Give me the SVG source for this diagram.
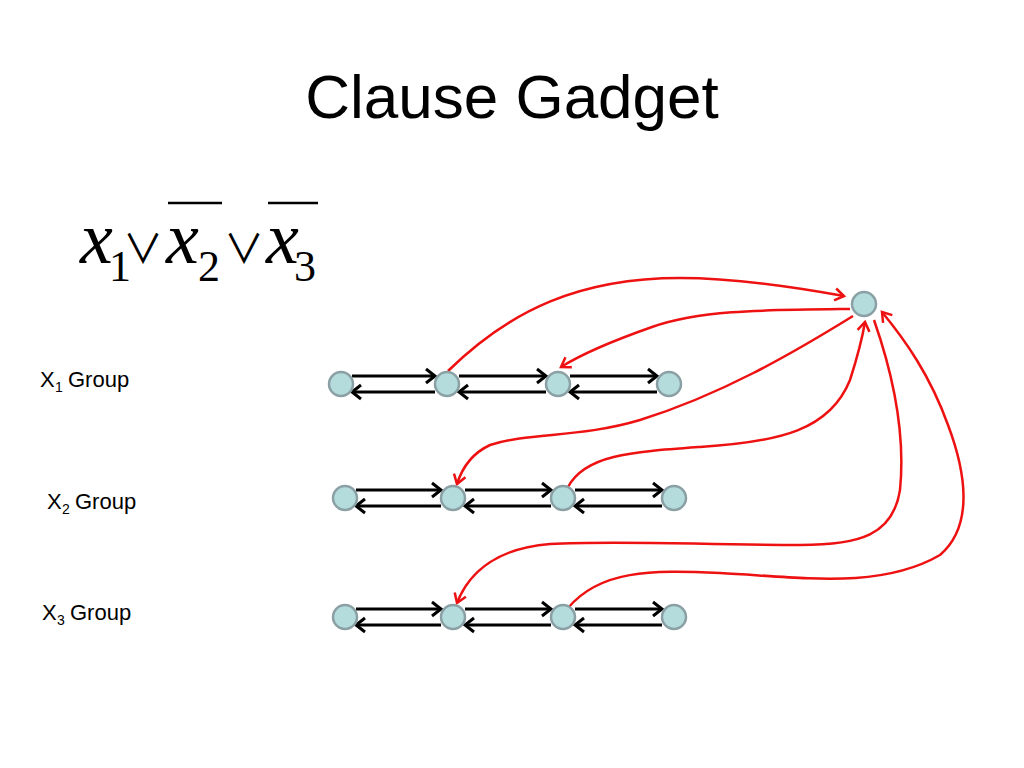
<svg xmlns="http://www.w3.org/2000/svg" width="1024" height="768" viewBox="0 0 1024 768">
<style>
.node{fill:#b5dcdd;stroke:#8aa0a4;stroke-width:2.5}
.blk{stroke:#000;stroke-width:3;fill:none;marker-end:url(#ah)}
.red{stroke:#ee1111;stroke-width:2.5;fill:none;marker-end:url(#rh)}
.lbl{font-family:"Liberation Sans",Arial,sans-serif;font-size:22px;fill:#000}
.sub{font-family:"Liberation Sans",Arial,sans-serif;font-size:14px;fill:#000}
.mx{font-family:"Liberation Serif","Times New Roman",serif;font-style:italic;font-size:74px}
.mn{font-family:"Liberation Serif","DejaVu Serif",serif;font-size:44px}
.op{font-family:"Noto Sans CJK SC","DejaVu Sans",sans-serif;font-size:40px}
</style>
<defs>
<marker id="ah" markerUnits="userSpaceOnUse" markerWidth="16" markerHeight="20" refX="12" refY="10" orient="auto">
<path d="M3,3 L12,10 L3,17" fill="none" stroke="#000" stroke-width="3"/>
</marker>
<marker id="rh" markerUnits="userSpaceOnUse" markerWidth="16" markerHeight="18" refX="12" refY="9" orient="auto">
<path d="M3,3 L12,9 L3,15" fill="none" stroke="#ee1111" stroke-width="2.5"/>
</marker>
</defs>
<rect width="1024" height="768" fill="#fff"/>
<text x="512" y="118" text-anchor="middle" style="font-family:'Liberation Sans',Arial,sans-serif;font-size:62px">Clause Gadget</text>
<g id="formula">
<text y="263" fill="#000"><tspan class="mx" x="80" y="263">x</tspan><tspan class="mn" x="109" y="281">1</tspan><tspan class="op" x="123" y="263">∨</tspan><tspan class="mx" x="166" y="263">x</tspan><tspan class="mn" x="198" y="281">2</tspan><tspan class="op" x="224" y="263">∨</tspan><tspan class="mx" x="266" y="263">x</tspan><tspan class="mn" x="294" y="281">3</tspan></text>
<line x1="168" y1="203" x2="222" y2="203" stroke="#000" stroke-width="2.5"/>
<line x1="268" y1="203" x2="318" y2="203" stroke="#000" stroke-width="2.5"/>
</g>
<g id="labels">
<text class="lbl" x="40" y="387">X<tspan class="sub" x="55" y="392">1</tspan><tspan x="68" y="387">Group</tspan></text>
<text class="lbl" x="47" y="509">X<tspan class="sub" x="62" y="514">2</tspan><tspan x="75" y="509">Group</tspan></text>
<text class="lbl" x="42" y="620">X<tspan class="sub" x="57" y="625">3</tspan><tspan x="70" y="620">Group</tspan></text>
</g>
<g id="connectors">
<line class="blk" x1="352" y1="376" x2="435" y2="376"/>
<line class="blk" x1="435" y1="392" x2="352" y2="392"/>
<line class="blk" x1="459" y1="376" x2="546" y2="376"/>
<line class="blk" x1="546" y1="392" x2="459" y2="392"/>
<line class="blk" x1="570" y1="376" x2="657" y2="376"/>
<line class="blk" x1="657" y1="392" x2="570" y2="392"/>
<line class="blk" x1="356" y1="490" x2="441" y2="490"/>
<line class="blk" x1="441" y1="506" x2="356" y2="506"/>
<line class="blk" x1="465" y1="490" x2="551" y2="490"/>
<line class="blk" x1="551" y1="506" x2="465" y2="506"/>
<line class="blk" x1="575" y1="490" x2="662" y2="490"/>
<line class="blk" x1="662" y1="506" x2="575" y2="506"/>
<line class="blk" x1="356" y1="609" x2="441" y2="609"/>
<line class="blk" x1="441" y1="625" x2="356" y2="625"/>
<line class="blk" x1="465" y1="609" x2="551" y2="609"/>
<line class="blk" x1="551" y1="625" x2="465" y2="625"/>
<line class="blk" x1="575" y1="609" x2="662" y2="609"/>
<line class="blk" x1="662" y1="625" x2="575" y2="625"/>
<path class="red" d="M448,371 C510,310 580,278 680,278 C740,278 800,288 844,296"/>
<path class="red" d="M850,309 C760,310 700,310 652,327 C615,340 585,352 561,367"/>
<path class="red" d="M853,316 C790,355 720,395 640,420 C580,438 530,432 490,445 C475,452 463,465 457,484"/>
<path class="red" d="M568,487 C585,455 630,452 700,447 C780,442 830,430 850,380 C858,355 862,340 865,322"/>
<path class="red" d="M874,320 C895,380 905,440 900,490 C893,535 860,545 800,545 C700,545 620,540 550,544 C500,548 470,570 457,603"/>
<path class="red" d="M568,608 C600,570 650,570 720,573 C800,577 880,590 940,555 C975,525 965,470 948,425 C930,375 905,340 882,312"/>
</g>
<g id="n_c"><circle class="node" cx="864" cy="304" r="12"/></g>
<g id="n11"><circle class="node" cx="341" cy="384" r="12"/></g>
<g id="n12"><circle class="node" cx="447" cy="384" r="12"/></g>
<g id="n13"><circle class="node" cx="558" cy="384" r="12"/></g>
<g id="n14"><circle class="node" cx="669" cy="384" r="12"/></g>
<g id="n21"><circle class="node" cx="345" cy="498" r="12"/></g>
<g id="n22"><circle class="node" cx="453" cy="498" r="12"/></g>
<g id="n23"><circle class="node" cx="563" cy="498" r="12"/></g>
<g id="n24"><circle class="node" cx="674" cy="498" r="12"/></g>
<g id="n31"><circle class="node" cx="345" cy="617" r="12"/></g>
<g id="n32"><circle class="node" cx="453" cy="617" r="12"/></g>
<g id="n33"><circle class="node" cx="563" cy="617" r="12"/></g>
<g id="n34"><circle class="node" cx="674" cy="617" r="12"/></g>
</svg>
